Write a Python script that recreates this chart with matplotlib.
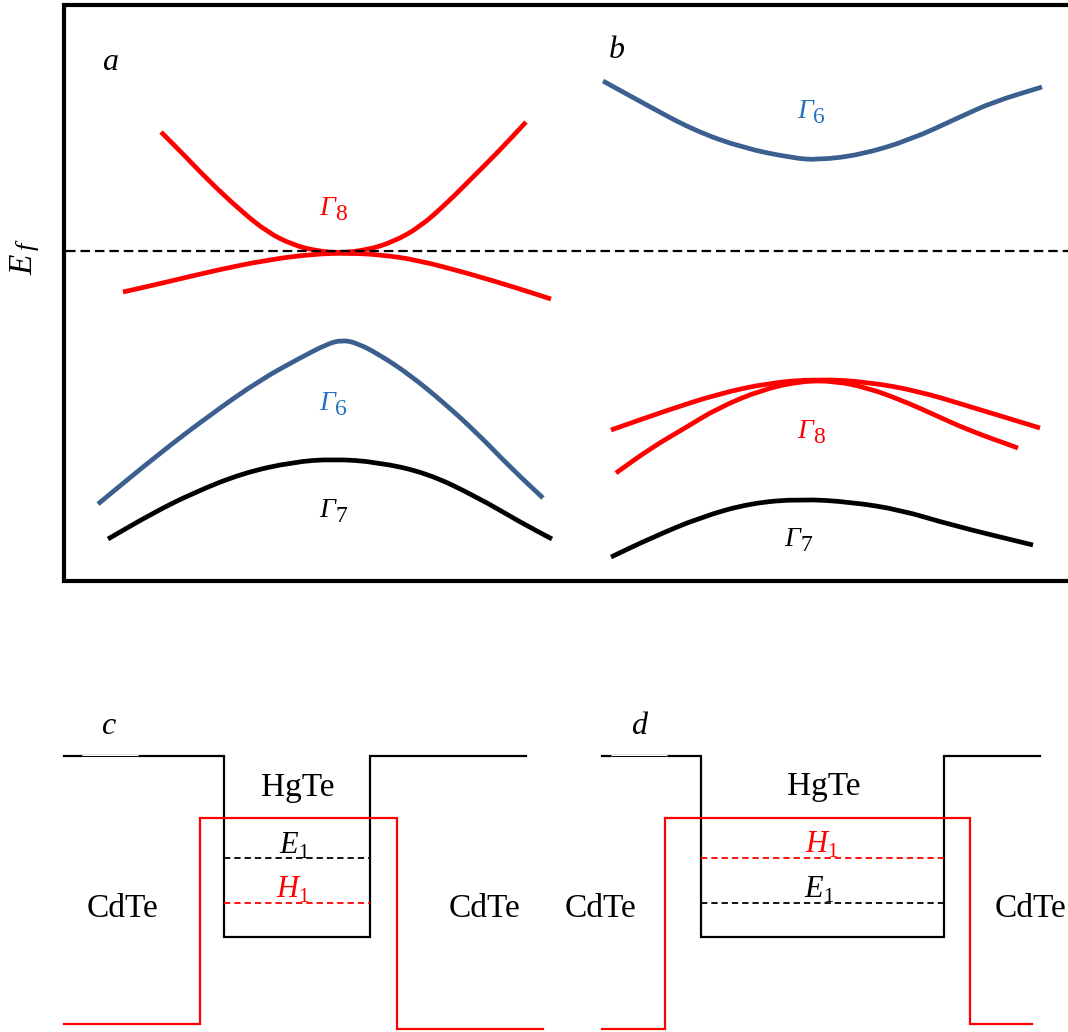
import matplotlib
matplotlib.use("Agg")
import matplotlib.pyplot as plt
from matplotlib.path import Path
from matplotlib.patches import PathPatch

plt.rcParams['font.family'] = ['Liberation Serif', 'DejaVu Serif']
plt.rcParams['mathtext.fontset'] = 'custom'
plt.rcParams['mathtext.it'] = 'Liberation Serif:italic'
plt.rcParams['mathtext.rm'] = 'Liberation Serif'

# Band curves (pixel positions)
# panel a
a_g8_up_x = [161, 183, 210, 240, 267, 293, 317, 340, 367, 393, 420, 447, 473, 500, 526]
a_g8_up_y = [132, 154, 182, 210, 232, 245, 251, 253, 250, 242, 227, 203, 177, 150, 122]
a_g8_lo_x = [123, 167, 217, 267, 313, 350, 383, 417, 467, 517, 551]
a_g8_lo_y = [292, 282, 270, 260, 254, 253, 255, 260, 273, 288, 299]
a_g6_x = [98, 160, 210, 260, 300, 327, 342, 357, 380, 410, 443, 477, 510, 543]
a_g6_y = [504, 453, 415, 380, 358, 344, 340, 343, 355, 375, 402, 433, 467, 498]
a_g7_x = [108, 153, 193, 243, 293, 333, 377, 427, 477, 520, 552]
a_g7_y = [539, 513, 493, 473, 462, 459, 462, 473, 497, 522, 539]
# panel b
b_g6_x = [603, 643, 693, 743, 793, 817, 860, 910, 960, 993, 1042]
b_g6_y = [81, 103, 130, 148, 158, 160, 155, 140, 117, 102, 87]
b_g8_out_x = [611, 668, 718, 768, 818, 868, 918, 968, 1040]
b_g8_out_y = [430, 410, 394, 383, 379, 382, 391, 406, 428]
b_g8_in_x = [616, 651, 685, 718, 761, 801, 835, 868, 901, 935, 968, 1018]
b_g8_in_y = [473, 448, 428, 408, 390, 381, 381, 388, 400, 415, 430, 448]
b_g7_x = [611, 651, 701, 751, 801, 851, 901, 951, 1033]
b_g7_y = [557, 538, 517, 503, 499, 502, 510, 525, 545]

# Frame and Fermi level
frame_x = [1075, 64, 64, 1075]
frame_y = [5, 5, 581, 581]
ef_x = [66, 1068]
ef_y = [251, 251]

# Quantum wells: conduction (black) and valence (red) profiles
c_cb_x = [64, 224, 224, 370, 370, 526]
c_cb_y = [756, 756, 937, 937, 756, 756]
c_vb_x = [64, 200, 200, 397, 397, 543]
c_vb_y = [1024, 1024, 818, 818, 1029, 1029]
d_cb_x = [602, 701, 701, 944, 944, 1040]
d_cb_y = [756, 756, 937, 937, 756, 756]
d_vb_x = [602, 665, 665, 970, 970, 1032]
d_vb_y = [1029, 1029, 818, 818, 1024, 1024]
# thinner piece of the top line under the panel letters
c_thin = ([82, 138], [756, 756])
d_thin = ([611, 667], [756, 756])
# subband levels
c_e1 = ([224, 370], [858, 858])
c_h1 = ([224, 370], [903, 903])
d_h1 = ([701, 944], [858, 858])
d_e1 = ([701, 944], [903, 903])

RED = '#ff0000'
BLUE = '#3b5f8e'
LBLUE = '#2673bf'

fig = plt.figure(figsize=(10.68, 10.32), dpi=100)
ax = fig.add_axes([0, 0, 1, 1])
ax.set_xlim(0, 1068)
ax.set_ylim(1032, 0)
ax.axis('off')


def smooth_curve(xs, ys, color):
    # quadratic bezier through the midpoints of the read points
    pts = list(zip(xs, ys))
    verts = [pts[0]]
    codes = [Path.MOVETO]
    mid = ((pts[0][0] + pts[1][0]) / 2, (pts[0][1] + pts[1][1]) / 2)
    verts.append(mid)
    codes.append(Path.LINETO)
    for i in range(1, len(pts) - 1):
        mid = ((pts[i][0] + pts[i + 1][0]) / 2, (pts[i][1] + pts[i + 1][1]) / 2)
        verts += [pts[i], mid]
        codes += [Path.CURVE3, Path.CURVE3]
    verts.append(pts[-1])
    codes.append(Path.LINETO)
    ax.add_patch(PathPatch(Path(verts, codes), fill=False, edgecolor=color,
                           lw=3.4, capstyle='butt', joinstyle='round'))


# top frame
ax.plot(frame_x, frame_y, color='black', lw=3, solid_joinstyle='miter', clip_on=False)
ax.plot(ef_x, ef_y, color='black', lw=1.6, linestyle=(0, (4.3, 2.2)))

smooth_curve(a_g8_up_x, a_g8_up_y, RED)
smooth_curve(a_g8_lo_x, a_g8_lo_y, RED)
smooth_curve(a_g6_x, a_g6_y, BLUE)
smooth_curve(a_g7_x, a_g7_y, 'black')
smooth_curve(b_g6_x, b_g6_y, BLUE)
smooth_curve(b_g8_out_x, b_g8_out_y, RED)
smooth_curve(b_g8_in_x, b_g8_in_y, RED)
smooth_curve(b_g7_x, b_g7_y, 'black')

# wells
well_kw = dict(lw=1.6, solid_joinstyle='miter')
ax.plot(c_cb_x, c_cb_y, color='black', **well_kw)
ax.plot(c_vb_x, c_vb_y, color=RED, **well_kw)
ax.plot(d_cb_x, d_cb_y, color='black', **well_kw)
ax.plot(d_vb_x, d_vb_y, color=RED, **well_kw)
for seg in (c_thin, d_thin):
    ax.plot(*seg, color='white', lw=2.2, solid_capstyle='butt')
    ax.plot(*seg, color='black', lw=0.7, solid_capstyle='butt')
dash = (0, (3.5, 2.2))
ax.plot(*c_e1, color='black', lw=1.3, linestyle=dash)
ax.plot(*c_h1, color=RED, lw=1.3, linestyle=dash)
ax.plot(*d_h1, color=RED, lw=1.3, linestyle=dash)
ax.plot(*d_e1, color='black', lw=1.3, linestyle=dash)


def sub_label(x, y, main, sub, color, size, subsize, dy=-3):
    t = ax.text(x, y, main, color=color, fontsize=size, style='italic',
                ha='left', va='baseline')
    ax.annotate(sub, xy=(1, 0), xycoords=t, xytext=(0.3, dy),
                textcoords='offset points', color=color, fontsize=subsize,
                ha='left', va='bottom')


# band labels
sub_label(319, 215, '\u0393', '8', RED, 20, 17)
sub_label(319, 410, '\u0393', '6', LBLUE, 20, 17)
sub_label(319, 517, '\u0393', '7', 'black', 20, 17)
sub_label(797, 118, '\u0393', '6', LBLUE, 20, 17)
sub_label(797, 438, '\u0393', '8', RED, 20, 17)
sub_label(784, 546, '\u0393', '7', 'black', 20, 17)

# level labels
sub_label(279, 853, 'E', '1', 'black', 22, 15, dy=-2.5)
sub_label(276, 897, 'H', '1', RED, 22, 15, dy=-2.5)
sub_label(805, 852, 'H', '1', RED, 22, 15, dy=-2.5)
sub_label(804, 897, 'E', '1', 'black', 22, 15, dy=-2.5)

# panel letters
for lx, ly, s in [(110, 62, 'a'), (617, 50, 'b'), (108, 727, 'c'), (639, 727, 'd')]:
    ax.text(lx, ly, s, fontsize=23, style='italic', ha='center', va='center')

# material labels
ax.text(298, 788, 'HgTe', fontsize=24, ha='center', va='center')
ax.text(824, 787, 'HgTe', fontsize=24, ha='center', va='center')
ax.text(123, 909, 'CdTe', fontsize=24, ha='center', va='center')
ax.text(484, 909, 'CdTe', fontsize=24, ha='center', va='center')
ax.text(601, 909, 'CdTe', fontsize=24, ha='center', va='center')
ax.text(1031, 909, 'CdTe', fontsize=24, ha='center', va='center')

# Fermi level label, E with subscript f (rotated)
ax.text(24, 265, 'E', fontsize=24, style='italic', rotation=90, ha='center', va='center')
ax.text(27, 246, 'f', fontsize=19, style='italic', rotation=90, ha='center', va='center')

fig.savefig('out.png', dpi=100)
